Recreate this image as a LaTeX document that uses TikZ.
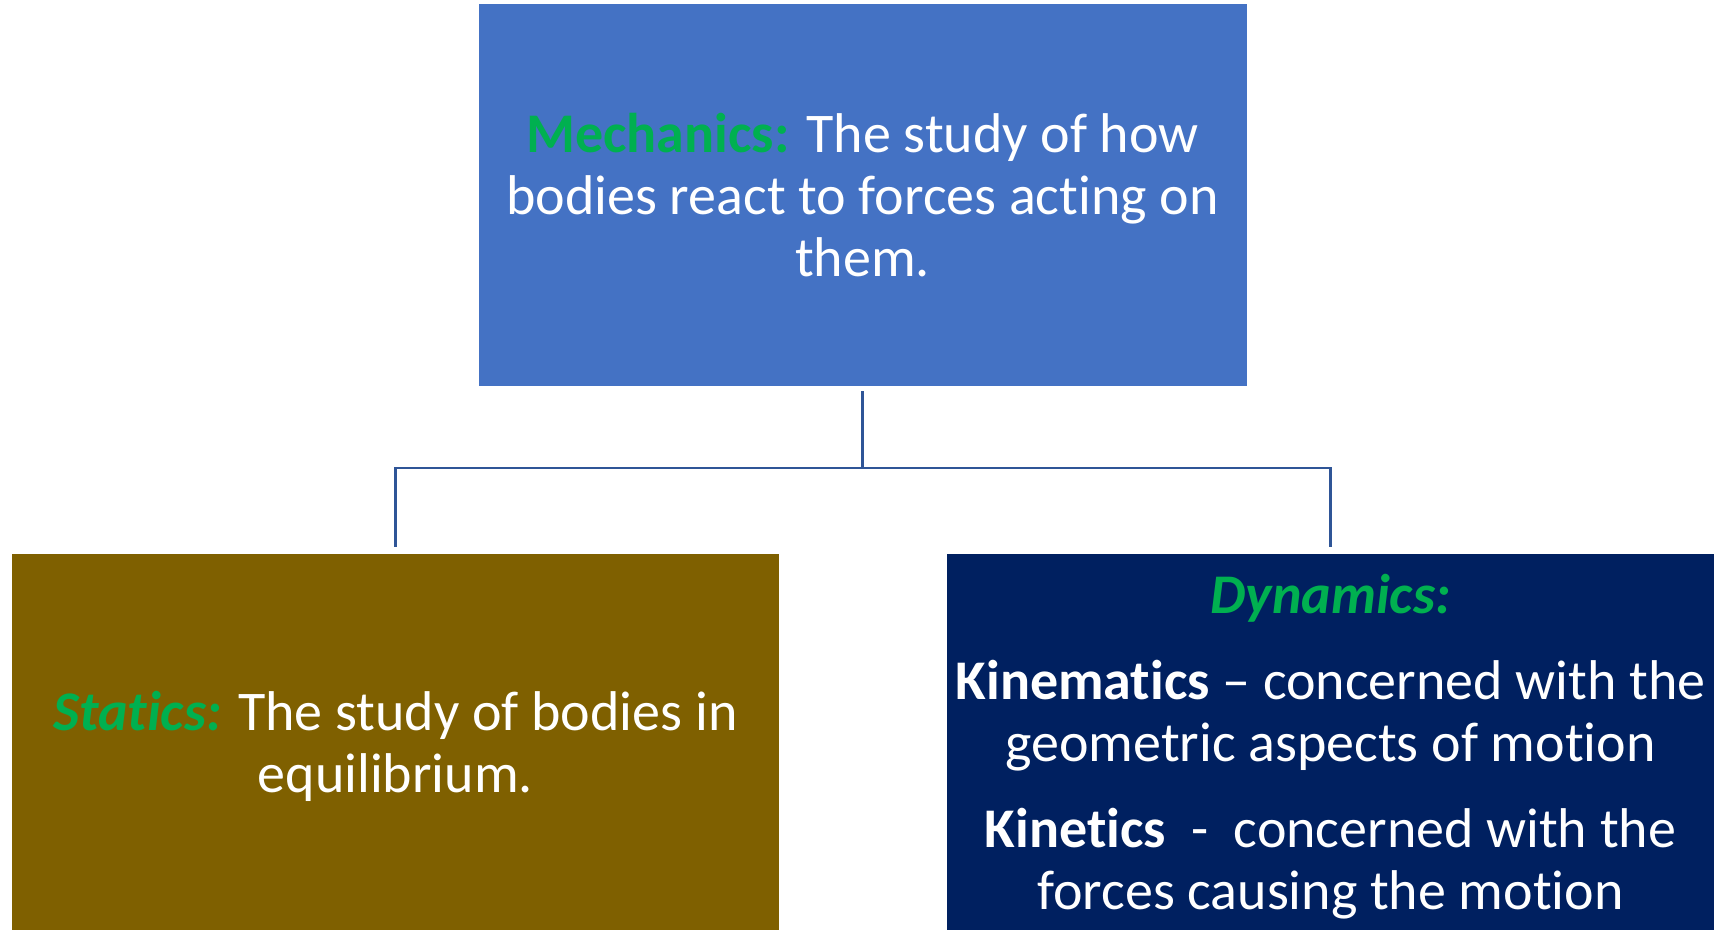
\documentclass[tikz,border=0pt]{standalone}
\usepackage{fontspec}
\setmainfont{Carlito}[Ligatures=NoCommon]
\definecolor{topblue}{HTML}{4472C4}
\definecolor{gold}{HTML}{7F6000}
\definecolor{navy}{HTML}{002060}
\definecolor{hlgreen}{HTML}{00B050}
\definecolor{connblue}{HTML}{2F5597}
\begin{document}
\begin{tikzpicture}[x=1pt,y=-1pt,
  box/.style={rectangle, inner sep=0pt, align=center, text=white,
    font=\fontsize{56}{62}\selectfont},
  conn/.style={draw=connblue, line width=2.2pt}]
\useasboundingbox (0,0) rectangle (1716,930);
\node[box, fill=topblue, minimum width=768pt, minimum height=382pt] (mech) at (862.5,195)
  {\textbf{\textcolor{hlgreen}{Mechanics:}} The study of how\\bodies react to forces acting on\\them.};
\node[box, fill=gold, minimum width=767pt, minimum height=376pt] (stat) at (395.5,742) {};
\node[box] (stattext) at (395.5,746)
  {\textcolor{hlgreen}{\textbf{\textit{Statics:}}} The study of bodies in\\equilibrium.};
\node[box, fill=navy, minimum width=767pt, minimum height=376pt] (dyn) at (1330.5,742) {};
\node[box] (dyntext) at (1330.5,747)
  {\textcolor{hlgreen}{\textbf{\textit{Dynamics:}}}\\[24pt]
   \textbf{Kinematics} -- concerned with the\\geometric aspects of motion\\[24pt]
   \textbf{Kinetics}\ \ -\ \ concerned with the\\forces causing the motion};
\coordinate (jn) at (mech.south |- 0,468);
\draw[conn, shorten <=5pt] (mech.south) -- (jn);
\draw[conn, shorten >=7pt] (jn) -| (stat.north);
\draw[conn, shorten >=7pt] (jn) -| (dyn.north);
\end{tikzpicture}
\end{document}
